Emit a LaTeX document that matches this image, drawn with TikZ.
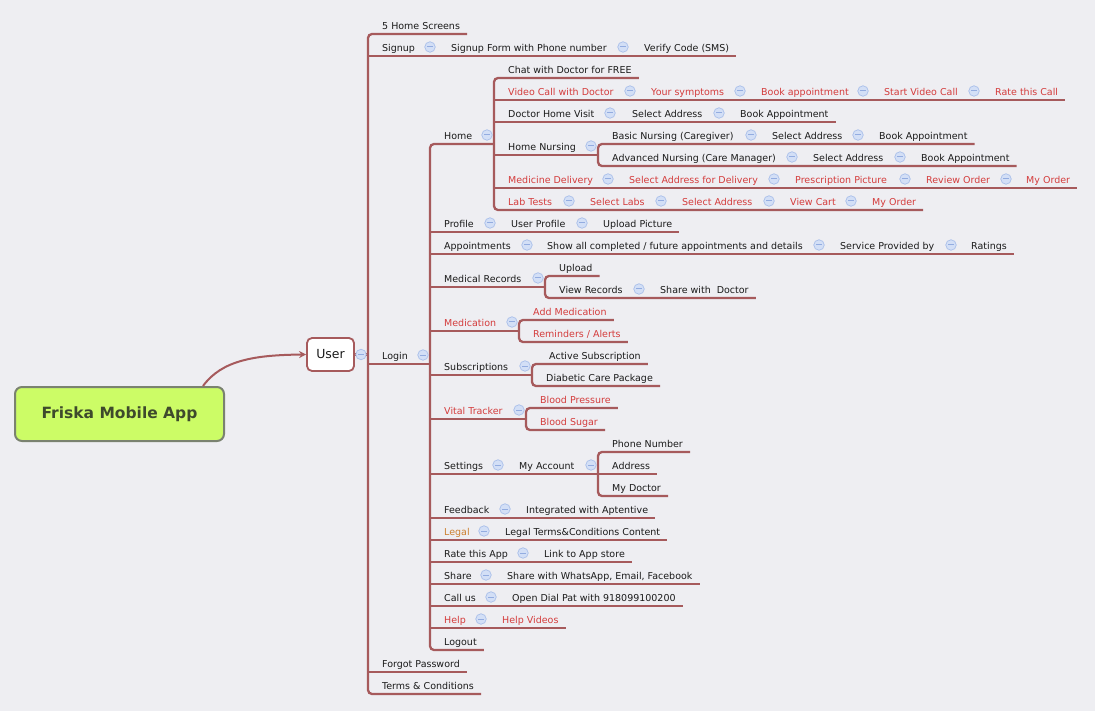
\documentclass[tikz,border=0pt]{standalone}
\usepackage{fontspec}
\setmainfont{DejaVu Sans}
\usetikzlibrary{calc,arrows.meta}
\definecolor{bgc}{HTML}{EEEEF2}
\definecolor{lnc}{HTML}{A65A5C}
\definecolor{txc}{HTML}{1A1A1A}
\definecolor{rdc}{HTML}{D43C3C}
\definecolor{orc}{HTML}{CC802F}
\definecolor{icf}{HTML}{D3DFF6}
\definecolor{icb}{HTML}{A9BFEA}
\definecolor{icm}{HTML}{93ACE0}
\definecolor{rootf}{HTML}{CCFC66}
\definecolor{rootb}{HTML}{7A8270}
\definecolor{roott}{HTML}{3E4A2C}
\begin{document}
\begin{tikzpicture}[x=1pt,y=-1pt,
 tx/.style={anchor=west,inner sep=0pt,text height=7pt,text depth=2pt,yshift=-1pt,font=\fontsize{9.5}{11}\selectfont,text=txc},
 rx/.style={tx,text=rdc},
 ox/.style={tx,text=orc},
 mi/.style={circle,draw=icb,fill=icf,line width=0.7pt,minimum size=10.5pt,inner sep=0pt,
   path picture={\draw[icm,line width=1pt] ([xshift=-2.6pt]path picture bounding box.center) -- ([xshift=2.6pt]path picture bounding box.center);}},
 br/.style={draw=lnc,line width=2.3pt,rounded corners=4pt},
 ue/.style={shift={(7pt,-7pt)}},
]
\useasboundingbox (0,0) rectangle (1095,711);
\fill[bgc] (0,0) rectangle (1095,711);

% ---------- texts ----------
\node[tx] (hs) at (382,26) {5 Home Screens};
\node[tx] (su1) at (382,48) {Signup};
\node[tx] (su2) at (451,48) {Signup Form with Phone number};
\node[tx] (su3) at (644,48) {Verify Code (SMS)};
\node[tx] (chat) at (508,70) {Chat with Doctor for FREE};
\node[rx] (vc1) at (508,92) {Video Call with Doctor};
\node[rx] (vc2) at (651,92) {Your symptoms};
\node[rx] (vc3) at (761,92) {Book appointment};
\node[rx] (vc4) at (884,92) {Start Video Call};
\node[rx] (vc5) at (995,92) {Rate this Call};
\node[tx] (dv1) at (508,114) {Doctor Home Visit};
\node[tx] (dv2) at (632,114) {Select Address};
\node[tx] (dv3) at (740,114) {Book Appointment};
\node[tx] (home) at (444,136) {Home};
\node[tx] (bn1) at (612,136) {Basic Nursing (Caregiver)};
\node[tx] (bn2) at (772,136) {Select Address};
\node[tx] (bn3) at (879,136) {Book Appointment};
\node[tx] (hn) at (508,147) {Home Nursing};
\node[tx] (an1) at (612,158) {Advanced Nursing (Care Manager)};
\node[tx] (an2) at (813,158) {Select Address};
\node[tx] (an3) at (921,158) {Book Appointment};
\node[rx] (md1) at (508,180) {Medicine Delivery};
\node[rx] (md2) at (629,180) {Select Address for Delivery};
\node[rx] (md3) at (795,180) {Prescription Picture};
\node[rx] (md4) at (926,180) {Review Order};
\node[rx] (md5) at (1026,180) {My Order};
\node[rx] (lt1) at (508,202) {Lab Tests};
\node[rx] (lt2) at (590,202) {Select Labs};
\node[rx] (lt3) at (682,202) {Select Address};
\node[rx] (lt4) at (790,202) {View Cart};
\node[rx] (lt5) at (872,202) {My Order};
\node[tx] (pr1) at (444,224) {Profile};
\node[tx] (pr2) at (511,224) {User Profile};
\node[tx] (pr3) at (603,224) {Upload Picture};
\node[tx] (ap1) at (444,246) {Appointments};
\node[tx] (ap2) at (547,246) {Show all completed / future appointments and details};
\node[tx] (ap3) at (840,246) {Service Provided by};
\node[tx] (ap4) at (971,246) {Ratings};
\node[tx] (upl) at (559,268) {Upload};
\node[tx] (mr) at (444,279) {Medical Records};
\node[tx] (vr1) at (559,290) {View Records};
\node[tx] (vr2) at (660,290) {Share with\ \ Doctor};
\node[rx] (am) at (533,312) {Add Medication};
\node[rx] (med) at (444,323) {Medication};
\node[rx] (ra) at (533,334) {Reminders / Alerts};
\node[tx] (login) at (382,356) {Login};
\node[tx] (as) at (549,356) {Active Subscription};
\node[tx] (sub) at (444,367) {Subscriptions};
\node[tx] (dc) at (546,378) {Diabetic Care Package};
\node[rx] (bp) at (540,400) {Blood Pressure};
\node[rx] (vt) at (444,411) {Vital Tracker};
\node[rx] (bs) at (540,422) {Blood Sugar};
\node[tx] (pn) at (612,444) {Phone Number};
\node[tx] (st1) at (444,466) {Settings};
\node[tx] (st2) at (519,466) {My Account};
\node[tx] (addr) at (612,466) {Address};
\node[tx] (mdoc) at (612,488) {My Doctor};
\node[tx] (fb1) at (444,510) {Feedback};
\node[tx] (fb2) at (526,510) {Integrated with Aptentive};
\node[ox] (lg1) at (444,532) {Legal};
\node[tx] (lg2) at (505,532) {Legal Terms\&Conditions Content};
\node[tx] (rt1) at (444,554) {Rate this App};
\node[tx] (rt2) at (544,554) {Link to App store};
\node[tx] (sh1) at (444,576) {Share};
\node[tx] (sh2) at (507,576) {Share with WhatsApp, Email, Facebook};
\node[tx] (cu1) at (444,598) {Call us};
\node[tx] (cu2) at (512,598) {Open Dial Pat with 918099100200};
\node[rx] (hp1) at (444,620) {Help};
\node[rx] (hp2) at (502,620) {Help Videos};
\node[tx] (lo) at (444,642) {Logout};
\node[tx] (fp) at (382,664) {Forgot Password};
\node[tx] (tc) at (382,686) {Terms \& Conditions};

% ---------- root and user ----------
\node[draw=rootb,fill=rootf,line width=2pt,rounded corners=7pt,minimum width=209pt,minimum height=54pt,
  font=\fontsize{15.5}{18}\selectfont\bfseries,text=roott] (root) at (119.5,414) {Friska Mobile App};
\node[draw=lnc,fill=white,line width=1.8pt,rounded corners=5pt,minimum width=47pt,minimum height=33pt,
  inner sep=0pt,font=\fontsize{12.5}{15}\selectfont,text=txc] (user) at (330.5,354.5) {User};
\draw[lnc,line width=2pt,-{Stealth[length=7pt,width=7pt]}] ([xshift=83.5pt]root.north) .. controls (222,360) and (255,355) .. (user.west);

% ---------- User branch (x=368) ----------
\coordinate (jU) at (368,354.5);
\draw[lnc,line width=2.3pt] (user.east) -- (jU);
\draw[br] ([ue]hs.east) -- (368,34) -- (368,694) -- ([ue]tc.east);
\draw[br] (368,56) -- ([ue]su3.east);
\draw[br] (368,364) -- (430,364);
\draw[br] (368,672) -- ([ue]fp.east);

% ---------- Login branch (x=430) ----------
\draw[br] (494,144) -- (430,144) -- (430,650) -- ([ue]lo.east);
\draw[br] (430,232) -- ([ue]pr3.east);
\draw[br] (430,254) -- ([ue]ap4.east);
\draw[br] (430,287) -- (545,287);
\draw[br] (430,331) -- (519,331);
\draw[br] (430,375) -- (532,375);
\draw[br] (430,419) -- (526,419);
\draw[br] (430,474) -- (598,474);
\draw[br] (430,518) -- ([ue]fb2.east);
\draw[br] (430,540) -- ([ue]lg2.east);
\draw[br] (430,562) -- ([ue]rt2.east);
\draw[br] (430,584) -- ([ue]sh2.east);
\draw[br] (430,606) -- ([ue]cu2.east);
\draw[br] (430,628) -- ([ue]hp2.east);

% ---------- Home branch (x=494) ----------
\draw[br] ([ue]chat.east) -- (494,78) -- (494,210) -- ([ue]lt5.east);
\draw[br] (494,100) -- ([ue]vc5.east);
\draw[br] (494,122) -- ([ue]dv3.east);
\draw[br] (494,155) -- (598,155);
\draw[br] (494,188) -- ([ue]md5.east);

% ---------- Home Nursing (x=598) ----------
\draw[br] ([ue]bn3.east) -- (598,144) -- (598,166) -- ([ue]an3.east);

% ---------- Medical Records (x=545) ----------
\draw[br] ([ue]upl.east) -- (545,276) -- (545,298) -- ([ue]vr2.east);

% ---------- Medication (x=519) ----------
\draw[br] ([ue]am.east) -- (519,320) -- (519,342) -- ([ue]ra.east);

% ---------- Subscriptions (x=532) ----------
\draw[br] ([ue]as.east) -- (532,364) -- (532,386) -- ([ue]dc.east);

% ---------- Vital Tracker (x=526) ----------
\draw[br] ([ue]bp.east) -- (526,408) -- (526,430) -- ([ue]bs.east);

% ---------- My Account (x=598) ----------
\draw[br] ([ue]pn.east) -- (598,452) -- (598,496) -- ([ue]mdoc.east);
\draw[br] (598,474) -- ([ue]addr.east);

% ---------- collapse icons ----------
\node[mi] (mU) at (361,354.5) {};
\node[mi] (m1) at (430,47) {};
\node[mi] (m2) at (623,47) {};
\node[mi] (m3) at (630,91) {};
\node[mi] (m4) at (740,91) {};
\node[mi] (m5) at (863,91) {};
\node[mi] (m6) at (974,91) {};
\node[mi] (m7) at (610,113) {};
\node[mi] (m8) at (719,113) {};
\node[mi] (m9) at (487,135) {};
\node[mi] (m10) at (751,135) {};
\node[mi] (m11) at (858,135) {};
\node[mi] (m12) at (591,146) {};
\node[mi] (m13) at (792,157) {};
\node[mi] (m14) at (900,157) {};
\node[mi] (m15) at (608,179) {};
\node[mi] (m16) at (774,179) {};
\node[mi] (m17) at (905,179) {};
\node[mi] (m18) at (1006,179) {};
\node[mi] (m19) at (569,201) {};
\node[mi] (m20) at (661,201) {};
\node[mi] (m21) at (769,201) {};
\node[mi] (m22) at (851,201) {};
\node[mi] (m23) at (490,223) {};
\node[mi] (m24) at (582,223) {};
\node[mi] (m25) at (527,245) {};
\node[mi] (m26) at (819,245) {};
\node[mi] (m27) at (951,245) {};
\node[mi] (m28) at (538,278) {};
\node[mi] (m29) at (639,289) {};
\node[mi] (m30) at (512,322) {};
\node[mi] (m31) at (423,355) {};
\node[mi] (m32) at (525,366) {};
\node[mi] (m33) at (519,410) {};
\node[mi] (m34) at (498,465) {};
\node[mi] (m35) at (591,465) {};
\node[mi] (m36) at (505,509) {};
\node[mi] (m37) at (484,531) {};
\node[mi] (m38) at (523,553) {};
\node[mi] (m39) at (486,575) {};
\node[mi] (m40) at (491,597) {};
\node[mi] (m41) at (481,619) {};
\end{tikzpicture}
\end{document}
